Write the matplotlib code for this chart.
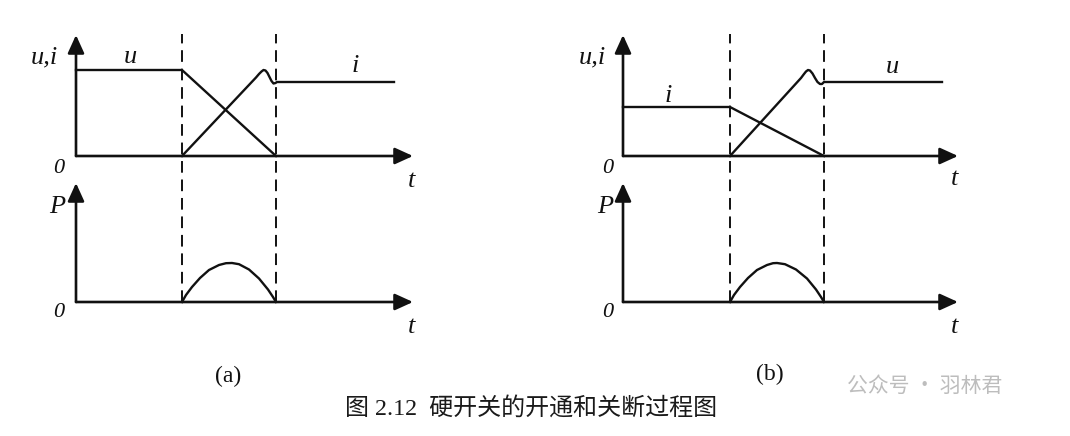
import matplotlib.pyplot as plt

# 硬开关的开通(a)和关断(b)过程示意图
# 横轴 t, 纵轴 u,i / P (任意单位), 下面的 P 图原点在 P_BASE 处
P_BASE = -14.6

# (a) 开通: u 下降, i 上升(带过冲)
a_t_on, a_t_off = 10.6, 20.0
a_u_t = [0, 10.6, 20.0]
a_u = [8.6, 8.6, 0]
a_i_t = [10.6, 18.0, 18.3, 18.55, 18.75, 18.95, 19.15, 19.35, 19.55, 19.75, 19.95, 20.1, 31.8]
a_i = [0, 7.85, 8.2, 8.45, 8.6, 8.55, 8.3, 7.9, 7.5, 7.25, 7.3, 7.4, 7.4]
a_p_t = [10.6, 11.0, 11.6, 12.4, 13.3, 14.3, 15.0, 15.6, 16.3, 17.3, 18.3, 19.2, 19.7, 20.0]
a_p = [0, 0.7, 1.5, 2.4, 3.2, 3.7, 3.88, 3.9, 3.78, 3.25, 2.35, 1.25, 0.5, 0]

# (b) 关断: i 下降, u 上升(带过冲)
b_t_on, b_t_off = 10.7, 20.1
b_i_t = [0, 10.7, 20.1]
b_i = [4.9, 4.9, 0]
b_u_t = [10.7, 17.8, 18.1, 18.3, 18.5, 18.7, 18.95, 19.2, 19.45, 19.7, 19.9, 20.1, 31.9]
b_u = [0, 7.8, 8.2, 8.45, 8.6, 8.55, 8.25, 7.8, 7.4, 7.2, 7.2, 7.4, 7.4]
b_p_t = [10.7, 11.1, 11.7, 12.5, 13.4, 14.4, 15.0, 15.4, 16.2, 17.3, 18.4, 19.3, 19.8, 20.1]
b_p = [0, 0.7, 1.5, 2.4, 3.2, 3.7, 3.88, 3.9, 3.78, 3.25, 2.35, 1.25, 0.5, 0]

W, H = 1070, 436
K = '#111111'
fig = plt.figure(figsize=(W / 100, H / 100), dpi=100)

FONT = dict(family=['Liberation Serif'], style='italic', color=K)


def arrow(ax, x0, y0, x1, y1):
    ax.annotate('', xy=(x1, y1), xytext=(x0, y0),
                arrowprops=dict(arrowstyle='-|>,head_length=0.55,head_width=0.25',
                                mutation_scale=20, lw=1.9, color=K,
                                shrinkA=0, shrinkB=0))


def panel(ox, oy, x_end, y_top, t_on, t_off, curves, p_t, p, labels):
    # 1 个数据单位 = 10 像素, (ox, oy) 为上图原点的像素位置
    ax = fig.add_axes([(ox - 70) / W, (H - (oy + 190)) / H, 420 / W, 320 / H])
    ax.set_xlim(-7, 35)
    ax.set_ylim(-19, 13)
    ax.axis('off')

    # 坐标轴 (上下两个)
    arrow(ax, 0, 0, x_end, 0)
    arrow(ax, 0, 0, 0, y_top)
    arrow(ax, 0, P_BASE, x_end, P_BASE)
    arrow(ax, 0, P_BASE, 0, P_BASE + 11.9)

    # 开关时刻虚线
    for tt in (t_on, t_off):
        ax.plot([tt, tt], [P_BASE, 12.2], color=K, lw=1.4,
                linestyle=(0, (6, 3.5)), clip_on=False)

    for t, v in curves:
        ax.plot(t, v, color=K, lw=1.7, solid_joinstyle='round')
    ax.plot(p_t, [P_BASE + x for x in p], color=K, lw=1.7)

    for s, x, y, size in labels:
        ax.text(x, y, s, ha='center', va='baseline', size=size, **FONT)
    return ax


panel(76, 156, 33.7, 12.1, a_t_on, a_t_off,
      [(a_u_t, a_u), (a_i_t, a_i)], a_p_t, a_p,
      [('u,i', -3.2, 9.3, 19), ('u', 5.4, 9.3, 19), ('i', 27.9, 8.4, 19),
       ('0', -1.7, -1.7, 16), ('t', 33.6, -3.1, 19),
       ('P', -1.9, -5.7, 19), ('0', -1.7, -16.1, 16), ('t', 33.6, -17.7, 19)])

panel(623, 156, 33.5, 12.1, b_t_on, b_t_off,
      [(b_i_t, b_i), (b_u_t, b_u)], b_p_t, b_p,
      [('u,i', -3.1, 9.3, 19), ('i', 4.5, 5.4, 19), ('u', 26.9, 8.3, 19),
       ('0', -1.5, -1.7, 16), ('t', 33.2, -2.9, 19),
       ('P', -1.8, -5.7, 19), ('0', -1.5, -16.1, 16), ('t', 33.2, -17.7, 19)])

# 子图标号和图题
fig.text(228 / W, 1 - 376 / H, '(a)', ha='center', va='center',
         family=['Liberation Serif'], size=17, color=K)
fig.text(770 / W, 1 - 374 / H, '(b)', ha='center', va='center',
         family=['Liberation Serif'], size=17, color=K)
fig.text(531 / W, 1 - 408 / H, '图 2.12  硬开关的开通和关断过程图', ha='center', va='center',
         family=['Liberation Serif', 'Noto Sans CJK SC'], size=17.3, color='#1a1a1a')
# 水印
fig.text(925 / W, 1 - 386 / H, '公众号 · 羽林君', ha='center', va='center',
         family=['Noto Sans CJK SC', 'DejaVu Sans'], size=15, color='#bdbdbd')

fig.savefig('out.png', dpi=100)
